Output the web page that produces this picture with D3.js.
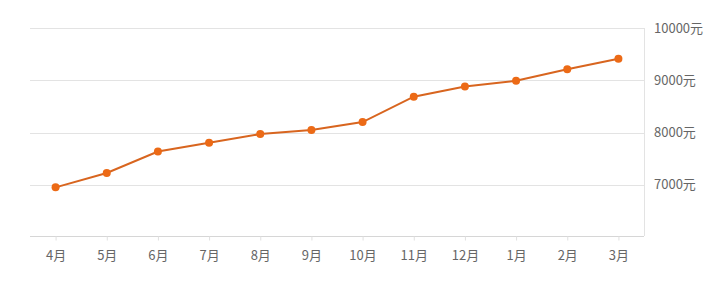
<!DOCTYPE html>
<html>
<head>
<meta charset="utf-8">
<script src="https://cdn.jsdelivr.net/npm/d3@7"></script>
<style>
  body { margin: 0; background: #fff; }
  text { font-family: "Noto Sans CJK SC", "Noto Sans", sans-serif; }
</style>
</head>
<body>
<div id="chart"></div>
<script>
"use strict";

var months = ["4月", "5月", "6月", "7月", "8月", "9月", "10月", "11月", "12月", "1月", "2月", "3月"];
var prices = [6950, 7225, 7635, 7805, 7970, 8050, 8200, 8685, 8880, 8990, 9210, 9410];
var yTicks = [7000, 8000, 9000, 10000];

var specs = {
    w: 720,
    h: 282,
    left: 30,
    right: 644,
    top: 28,
    bottom: 236
};

var svg = d3.select("#chart").append("svg")
    .attr("width", specs.w)
    .attr("height", specs.h);

var x = d3.scalePoint()
    .domain(months)
    .range([specs.left, specs.right])
    .padding(0.5);

var y = d3.scaleLinear()
    .domain([6000, 10000])
    .range([specs.bottom + 1, specs.top]);

// horizontal grid lines
svg.append("g")
    .selectAll("line")
    .data(yTicks)
    .enter()
    .append("line")
    .attr("x1", specs.left)
    .attr("x2", specs.right)
    .attr("y1", function(d) { return Math.round(y(d)) + 0.5; })
    .attr("y2", function(d) { return Math.round(y(d)) + 0.5; })
    .attr("stroke", "#e3e3e3")
    .attr("stroke-width", 1);

// right border
svg.append("line")
    .attr("x1", specs.right + 0.5)
    .attr("x2", specs.right + 0.5)
    .attr("y1", specs.top)
    .attr("y2", specs.bottom)
    .attr("stroke", "#e3e3e3");

// y labels on the right
var yAxis = d3.axisRight(y)
    .tickValues(yTicks)
    .tickSize(0)
    .tickPadding(10)
    .tickFormat(function(d) { return d + "元"; });

svg.append("g")
    .attr("transform", "translate(" + specs.right + ",0)")
    .call(yAxis)
    .call(function(g) { g.select(".domain").remove(); })
    .selectAll("text")
    .attr("fill", "#666")
    .style("font-size", "13px");

// x axis
var xAxis = d3.axisBottom(x)
    .tickSize(4)
    .tickSizeOuter(0)
    .tickPadding(10);

var gx = svg.append("g")
    .attr("transform", "translate(0," + (specs.bottom + 0.5) + ")")
    .call(xAxis);

gx.select(".domain")
    .attr("stroke", "#d6d6d6")
    .attr("d", "M" + specs.left + ",0H" + specs.right);
gx.selectAll(".tick line").attr("stroke", "#e0e0e0");
gx.selectAll("text")
    .attr("fill", "#666")
    .style("font-size", "13px");

// price line
var line = d3.line()
    .x(function(d, i) { return x(months[i]); })
    .y(function(d) { return y(d); });

svg.append("path")
    .datum(prices)
    .attr("fill", "none")
    .attr("stroke", "#d8651f")
    .attr("stroke-width", 2)
    .attr("d", line);

svg.append("g")
    .selectAll("circle")
    .data(prices)
    .enter()
    .append("circle")
    .attr("cx", function(d, i) { return x(months[i]); })
    .attr("cy", function(d) { return y(d); })
    .attr("r", 4)
    .attr("fill", "#ec6a16");
</script>
</body>
</html>
